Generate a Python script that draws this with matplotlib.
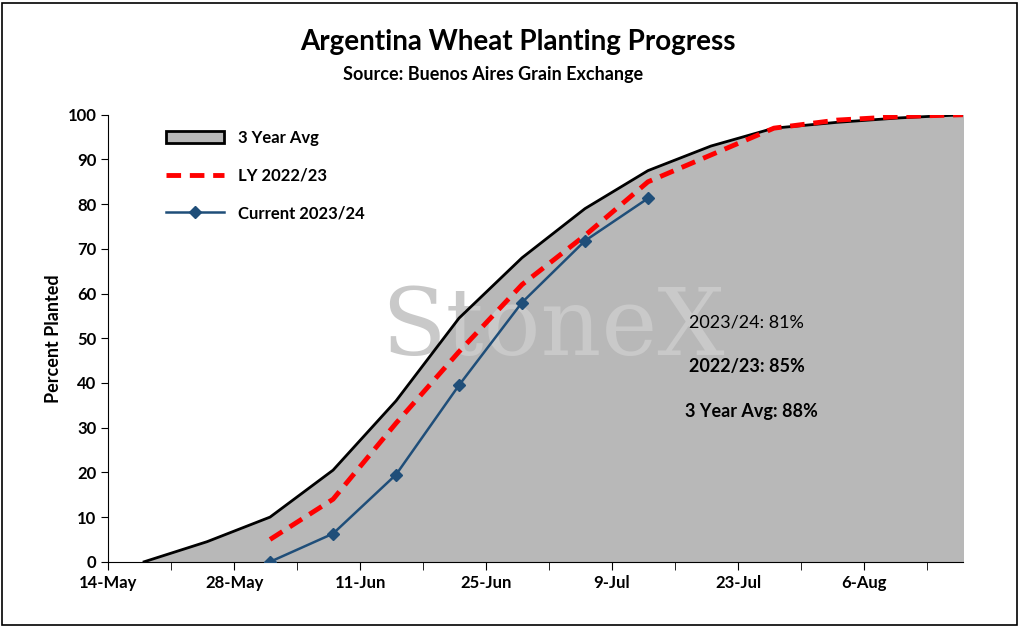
import matplotlib
matplotlib.use('Agg')
import matplotlib.pyplot as plt
import pandas as pd
from matplotlib.patches import Patch
from matplotlib.lines import Line2D

avg_dates = pd.to_datetime(['2023-05-18', '2023-05-25', '2023-06-01', '2023-06-08', '2023-06-15',
                            '2023-06-22', '2023-06-29', '2023-07-06', '2023-07-13', '2023-07-20',
                            '2023-07-27', '2023-08-03', '2023-08-10', '2023-08-17'])
avg_vals = [0, 4.5, 10, 20.5, 36, 54.5, 68, 79, 87.5, 93, 97, 98.3, 99.3, 100]
ly_vals = [None, None, 5, 14, 31, 47, 62, 73, 85, 91, 97, 98.8, 99.6, 100]
cur_dates = avg_dates[2:9]
cur_vals = [0, 6.3, 19.5, 39.5, 58, 71.8, 81.3]

plt.rcParams['font.family'] = ['Lato', 'DejaVu Sans']
fig = plt.figure(figsize=(10.2, 6.27), dpi=100)
ax = fig.add_axes([0.106, 0.104, 0.838, 0.713])

ax.fill_between(avg_dates, avg_vals, 0, color='#b8b8b8', zorder=1)
ax.plot(avg_dates, avg_vals, color='black', lw=2, zorder=2)
ly_d = [d for d, v in zip(avg_dates, ly_vals) if v is not None]
ly_v = [v for v in ly_vals if v is not None]
ax.plot(ly_d, ly_v, color='#ff0000', lw=3.5, ls=(0, (3, 1.8)), zorder=3)
ax.plot(cur_dates, cur_vals, color='#1f4e79', lw=1.8, marker='D', ms=6, zorder=4)

ax.set_xlim(pd.Timestamp('2023-05-14'), pd.Timestamp('2023-08-17'))
ax.set_ylim(0, 100)
ax.set_yticks(range(0, 101, 10))
ticks = pd.date_range('2023-05-14', '2023-08-17', freq='14D')
ax.set_xticks(ticks)
ax.set_xticklabels([f"{t.day}-{t.strftime('%b')}" for t in ticks])
ax.set_xticks(pd.date_range('2023-05-21', '2023-08-17', freq='14D'), minor=True)
ax.tick_params(axis='x', which='both', length=6, direction='out', labelsize=12)
ax.tick_params(axis='y', length=5, labelsize=12)
for lab in ax.get_xticklabels() + ax.get_yticklabels():
    lab.set_fontweight('bold')
ax.set_ylabel('Percent Planted', fontsize=13, fontweight='bold')
for s in ['top', 'right']:
    ax.spines[s].set_visible(False)

handles = [Patch(facecolor='#b8b8b8', edgecolor='black', lw=2),
           Line2D([], [], color='#ff0000', lw=3.5, ls=(0, (3, 1.8))),
           Line2D([], [], color='#1f4e79', lw=1.8, marker='D', ms=6)]
ax.legend(handles, ['3 Year Avg', 'LY 2022/23', 'Current 2023/24'], loc='upper left',
          frameon=False, prop={'weight': 'bold', 'size': 12},
          labelspacing=1.3, handlelength=3.5, bbox_to_anchor=(0.05, 1.0))

ax.text(0.52, 0.52, 'StoneX', transform=ax.transAxes, fontsize=68, color='#c9c9c9',
        family='DejaVu Serif', ha='center', va='center', zorder=1.5)
ax.text(0.68, 0.525, '2023/24: 81%', transform=ax.transAxes, fontsize=13)
ax.text(0.68, 0.425, '2022/23: 85%', transform=ax.transAxes, fontsize=13, fontweight='bold')
ax.text(0.675, 0.325, '3 Year Avg: 88%', transform=ax.transAxes, fontsize=13, fontweight='bold')

fig.text(0.508, 0.92, 'Argentina Wheat Planting Progress', ha='center', fontsize=20, fontweight='bold')
fig.text(0.483, 0.873, 'Source: Buenos Aires Grain Exchange', ha='center', fontsize=13, fontweight='bold')
fig.patches.append(plt.Rectangle((0.002, 0.003), 0.995, 0.993, transform=fig.transFigure,
                                 fill=False, edgecolor='black', lw=1.2))
fig.savefig('out.png', dpi=100)
